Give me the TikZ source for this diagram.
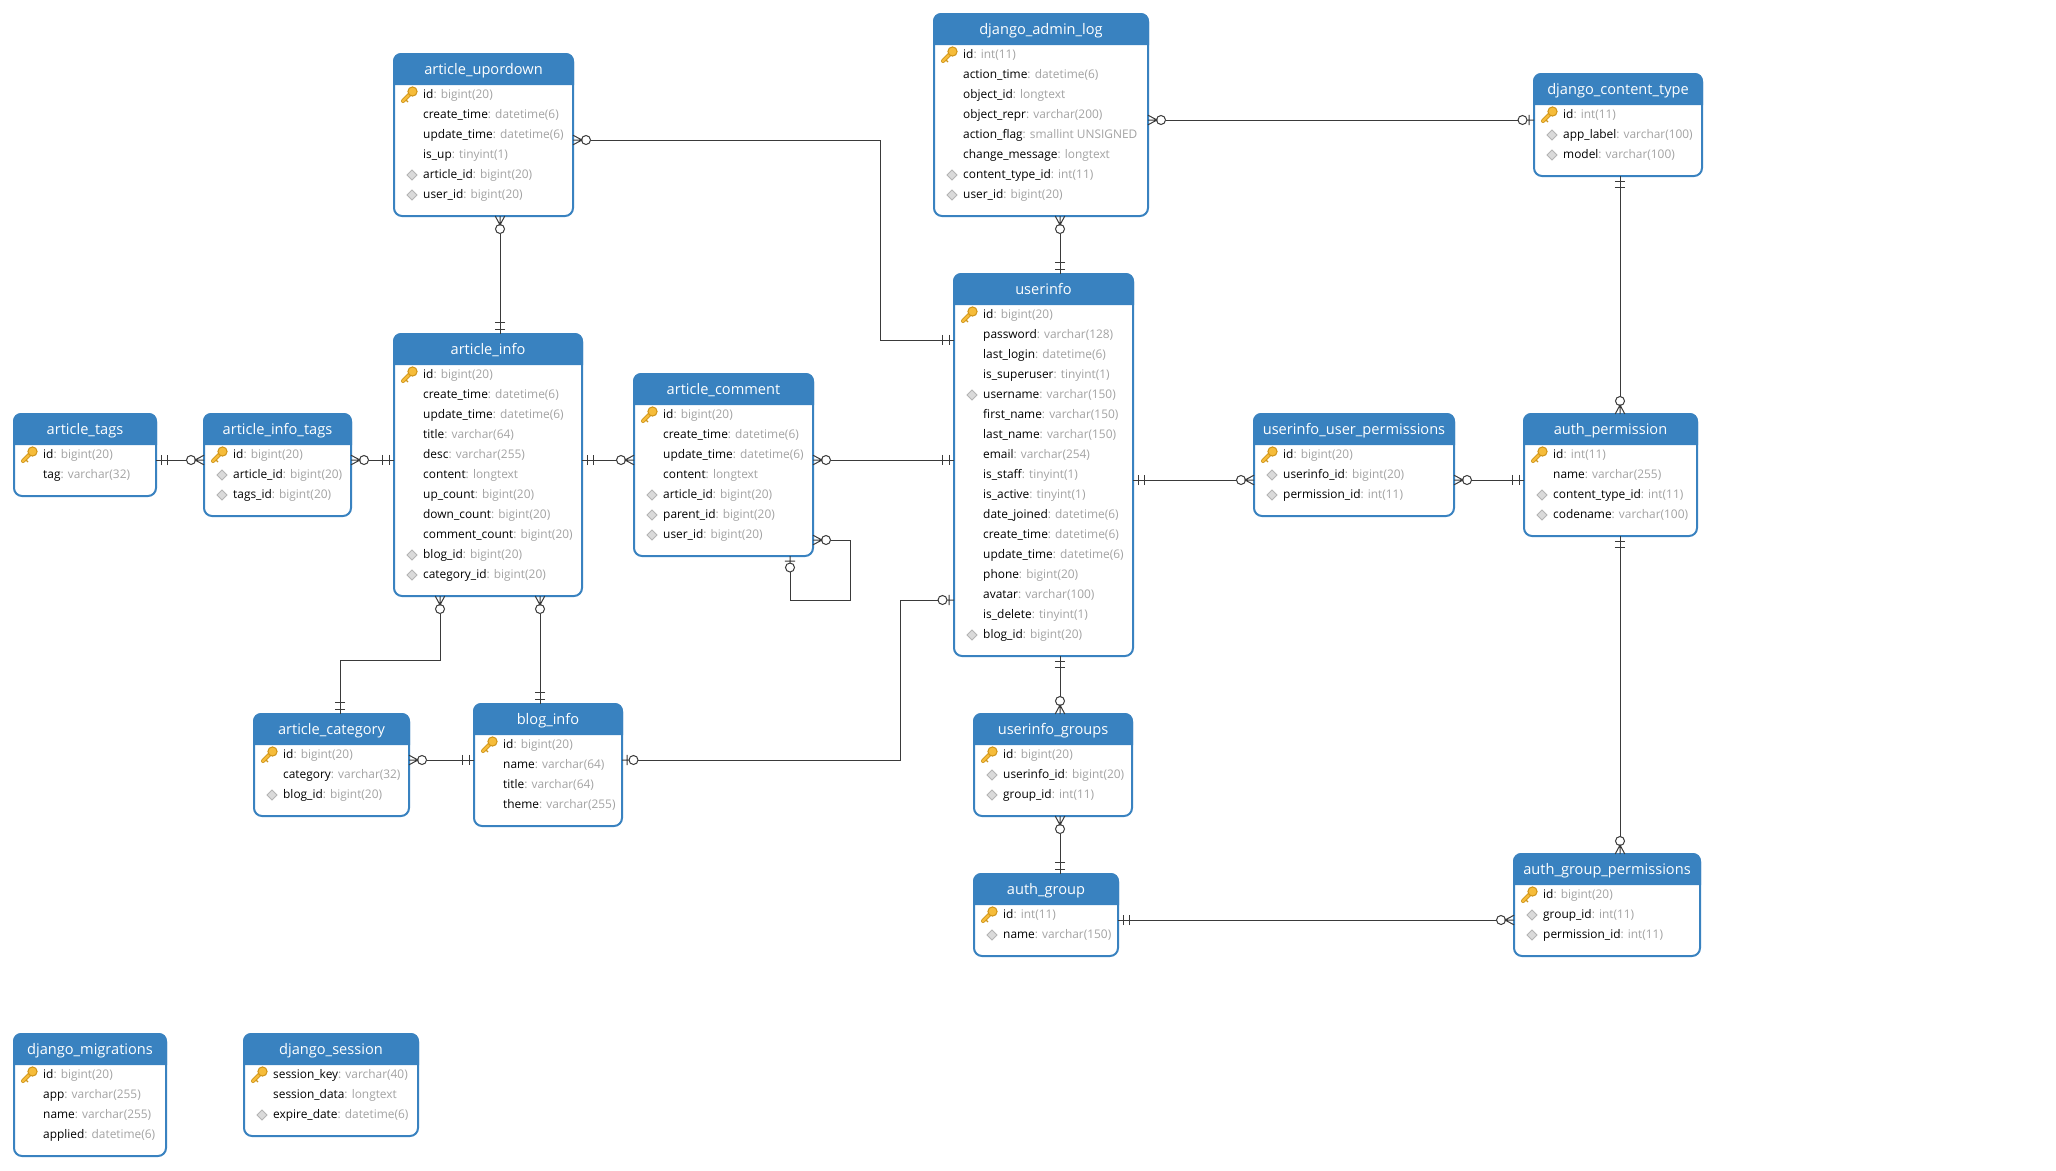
\documentclass[tikz,border=0pt]{standalone}
\usepackage{fontspec}
\setmainfont{Open Sans}
\usetikzlibrary{arrows.meta}

\definecolor{tableblue}{HTML}{3982C0}
\definecolor{typegray}{HTML}{A3A3A3}
\definecolor{linkgray}{HTML}{3A3A3A}
\definecolor{keygold}{HTML}{F6BC3A}
\definecolor{keyedge}{HTML}{CF9418}
\definecolor{fkfill}{HTML}{DADADA}
\definecolor{fkedge}{HTML}{B4B4B4}

% Crow's foot ends of the relationship lines
\pgfdeclarearrow{
  name=ManyOpt,
  setup code={\pgfarrowssettipend{0pt}\pgfarrowssetlineend{-17.5pt}\pgfarrowssetbackend{-17.5pt}},
  drawing code={
    \pgfsetdash{}{0pt}
    \pgfpathmoveto{\pgfqpoint{0pt}{4.8pt}}
    \pgfpathlineto{\pgfqpoint{-9pt}{0pt}}
    \pgfpathlineto{\pgfqpoint{0pt}{-4.8pt}}
    \pgfpathmoveto{\pgfqpoint{0pt}{0pt}}
    \pgfpathlineto{\pgfqpoint{-8.5pt}{0pt}}
    \pgfpathcircle{\pgfqpoint{-13pt}{0pt}}{4.5pt}
    \pgfusepathqstroke
  }
}
\pgfdeclarearrow{
  name=OneMand,
  setup code={\pgfarrowssettipend{0pt}\pgfarrowssetlineend{0pt}\pgfarrowssetbackend{-12pt}},
  drawing code={
    \pgfsetdash{}{0pt}
    \pgfpathmoveto{\pgfqpoint{-5pt}{5.2pt}}
    \pgfpathlineto{\pgfqpoint{-5pt}{-5.2pt}}
    \pgfpathmoveto{\pgfqpoint{-11.5pt}{5.2pt}}
    \pgfpathlineto{\pgfqpoint{-11.5pt}{-5.2pt}}
    \pgfusepathqstroke
  }
}
\pgfdeclarearrow{
  name=OneOpt,
  setup code={\pgfarrowssettipend{0pt}\pgfarrowssetlineend{-16pt}\pgfarrowssetbackend{-16pt}},
  drawing code={
    \pgfsetdash{}{0pt}
    \pgfpathmoveto{\pgfqpoint{0pt}{0pt}}
    \pgfpathlineto{\pgfqpoint{-7pt}{0pt}}
    \pgfpathmoveto{\pgfqpoint{-5pt}{5.2pt}}
    \pgfpathlineto{\pgfqpoint{-5pt}{-5.2pt}}
    \pgfpathcircle{\pgfqpoint{-11.5pt}{0pt}}{4.5pt}
    \pgfusepathqstroke
  }
}

\tikzset{
  tablebox/.style={draw=tableblue, fill=white, line width=2pt, rounded corners=8pt,
    inner sep=0pt, outer sep=0pt, anchor=north west},
  tabletitle/.style={text=white, inner sep=0pt, anchor=base, font=\fontsize{14.6}{17}\selectfont},
  rowtext/.style={anchor=base west, inner sep=0pt, text=black, font=\fontsize{11.9}{14}\selectfont},
  rel/.style={draw=linkgray, line width=1pt},
  keyicon/.pic={
    \draw[keyedge, line width=4pt, line cap=round] (-1,1) -- (-9.5,9.5);
    \draw[keygold, line width=2.4pt, line cap=round] (-1,1) -- (-9.5,9.5);
    \draw[keyedge, line width=1.2pt] (-6.5,8.5) -- (-4.5,10.5);
    \draw[keyedge, fill=keygold, line width=1pt] (0,0) circle (4.6);
  },
  fkicon/.pic={
    \draw[fkedge, fill=fkfill, line width=1pt] (-5,0) -- (0,-5) -- (5,0) -- (0,5) -- cycle;
  },
}

% \dbtable{node}{left}{top}{right}{row count}{title}{kind/column/type,...}
% kind: 0 plain column, 1 primary key, 2 indexed column
\newcommand{\dbtable}[7]{
  \node[tablebox, minimum width={(#4-#2-2)*1pt},
        minimum height={(32+20*#5+10)*1pt}] (#1) at ({#2+1},{#3+1}) {};
  \fill[tableblue] ({#2},{#3+32}) [rounded corners=8pt] -- ({#2},{#3}) -- ({#4},{#3})
        [sharp corners] -- ({#4},{#3+32}) -- cycle;
  \node[tabletitle] (#1-title) at ({(#2+#4)/2},{#3+21.5}) {#6};
  \foreach \rk/\rn/\rt [count=\ri] in {#7} {
    \node[rowtext] (#1-row\ri) at ({#2+30},{#3+45.5+20*(\ri-1)})
      {\rn\textcolor{typegray}{: \rt}};
    \ifnum\rk=1 \pic at ({#2+19.5},{#3+38.5+20*(\ri-1)}) {keyicon};\fi
    \ifnum\rk=2 \pic at ({#2+19},{#3+42+20*(\ri-1)}) {fkicon};\fi
  }
}

\begin{document}
\begin{tikzpicture}[x=1pt,y=-1pt]
\useasboundingbox (0,0) rectangle (2056,1170);
\fill[white] (0,0) rectangle (2056,1170);

% Tables
\dbtable{upordown}{393}{53}{574}{6}{article\_upordown}{
  1/id/bigint(20), 0/create\_time/datetime(6), 0/update\_time/datetime(6),
  0/is\_up/tinyint(1), 2/article\_id/bigint(20), 2/user\_id/bigint(20)}
\dbtable{tags}{13}{413}{157}{2}{article\_tags}{
  1/id/bigint(20), 0/tag/varchar(32)}
\dbtable{infotags}{203}{413}{352}{3}{article\_info\_tags}{
  1/id/bigint(20), 2/article\_id/bigint(20), 2/tags\_id/bigint(20)}
\dbtable{info}{393}{333}{583}{11}{article\_info}{
  1/id/bigint(20), 0/create\_time/datetime(6), 0/update\_time/datetime(6),
  0/title/varchar(64), 0/desc/varchar(255), 0/content/longtext,
  0/up\_count/bigint(20), 0/down\_count/bigint(20), 0/comment\_count/bigint(20),
  2/blog\_id/bigint(20), 2/category\_id/bigint(20)}
\dbtable{comment}{633}{373}{814}{7}{article\_comment}{
  1/id/bigint(20), 0/create\_time/datetime(6), 0/update\_time/datetime(6),
  0/content/longtext, 2/article\_id/bigint(20), 2/parent\_id/bigint(20),
  2/user\_id/bigint(20)}
\dbtable{userinfo}{953}{273}{1134}{17}{userinfo}{
  1/id/bigint(20), 0/password/varchar(128), 0/last\_login/datetime(6),
  0/is\_superuser/tinyint(1), 2/username/varchar(150), 0/first\_name/varchar(150),
  0/last\_name/varchar(150), 0/email/varchar(254), 0/is\_staff/tinyint(1),
  0/is\_active/tinyint(1), 0/date\_joined/datetime(6), 0/create\_time/datetime(6),
  0/update\_time/datetime(6), 0/phone/bigint(20), 0/avatar/varchar(100),
  0/is\_delete/tinyint(1), 2/blog\_id/bigint(20)}
\dbtable{adminlog}{933}{13}{1149}{8}{django\_admin\_log}{
  1/id/int(11), 0/action\_time/datetime(6), 0/object\_id/longtext,
  0/object\_repr/varchar(200), 0/action\_flag/smallint UNSIGNED,
  0/change\_message/longtext, 2/content\_type\_id/int(11), 2/user\_id/bigint(20)}
\dbtable{ctype}{1533}{73}{1703}{3}{django\_content\_type}{
  1/id/int(11), 2/app\_label/varchar(100), 2/model/varchar(100)}
\dbtable{uup}{1253}{413}{1455}{3}{userinfo\_user\_permissions}{
  1/id/bigint(20), 2/userinfo\_id/bigint(20), 2/permission\_id/int(11)}
\dbtable{perm}{1523}{413}{1698}{4}{auth\_permission}{
  1/id/int(11), 0/name/varchar(255), 2/content\_type\_id/int(11), 2/codename/varchar(100)}
\dbtable{category}{253}{713}{410}{3}{article\_category}{
  1/id/bigint(20), 0/category/varchar(32), 2/blog\_id/bigint(20)}
\dbtable{bloginfo}{473}{703}{623}{4}{blog\_info}{
  1/id/bigint(20), 0/name/varchar(64), 0/title/varchar(64), 0/theme/varchar(255)}
\dbtable{ugroups}{973}{713}{1133}{3}{userinfo\_groups}{
  1/id/bigint(20), 2/userinfo\_id/bigint(20), 2/group\_id/int(11)}
\dbtable{authgroup}{973}{873}{1119}{2}{auth\_group}{
  1/id/int(11), 2/name/varchar(150)}
\dbtable{agp}{1513}{853}{1701}{3}{auth\_group\_permissions}{
  1/id/bigint(20), 2/group\_id/int(11), 2/permission\_id/int(11)}
\dbtable{migrations}{13}{1033}{167}{4}{django\_migrations}{
  1/id/bigint(20), 0/app/varchar(255), 0/name/varchar(255), 0/applied/datetime(6)}
\dbtable{session}{243}{1033}{419}{3}{django\_session}{
  1/session\_key/varchar(40), 0/session\_data/longtext, 2/expire\_date/datetime(6)}

% Relationships
\draw[rel, {ManyOpt}-{OneMand}] (upordown.east |- 0,140) -- (880,140) -- (880,340) -- (userinfo.west |- 0,340);
\draw[rel, {ManyOpt}-{OneMand}] (upordown.south -| 500,0) -- (info.north -| 500,0);
\draw[rel, {OneMand}-{ManyOpt}] (tags.east |- 0,460) -- (infotags.west |- 0,460);
\draw[rel, {ManyOpt}-{OneMand}] (infotags.east |- 0,460) -- (info.west |- 0,460);
\draw[rel, {OneMand}-{ManyOpt}] (info.east |- 0,460) -- (comment.west |- 0,460);
\draw[rel, {ManyOpt}-{OneMand}] (comment.east |- 0,460) -- (userinfo.west |- 0,460);
\draw[rel, {ManyOpt}-{OneOpt}] (comment.east |- 0,540) -- (850,540) -- (850,600) -- (790,600) -- (comment.south -| 790,0);
\draw[rel, {OneOpt}-{OneOpt}] (bloginfo.east |- 0,760) -- (900,760) -- (900,600) -- (userinfo.west |- 0,600);
\draw[rel, {ManyOpt}-{OneMand}] (info.south -| 440,0) -- (440,660) -- (340,660) -- (category.north -| 340,0);
\draw[rel, {ManyOpt}-{OneMand}] (info.south -| 540,0) -- (bloginfo.north -| 540,0);
\draw[rel, {ManyOpt}-{OneMand}] (category.east |- 0,760) -- (bloginfo.west |- 0,760);
\draw[rel, {ManyOpt}-{OneOpt}] (adminlog.east |- 0,120) -- (ctype.west |- 0,120);
\draw[rel, {ManyOpt}-{OneMand}] (adminlog.south -| 1060,0) -- (userinfo.north -| 1060,0);
\draw[rel, {OneMand}-{ManyOpt}] (ctype.south -| 1620,0) -- (perm.north -| 1620,0);
\draw[rel, {OneMand}-{ManyOpt}] (userinfo.east |- 0,480) -- (uup.west |- 0,480);
\draw[rel, {ManyOpt}-{OneMand}] (uup.east |- 0,480) -- (perm.west |- 0,480);
\draw[rel, {OneMand}-{ManyOpt}] (perm.south -| 1620,0) -- (agp.north -| 1620,0);
\draw[rel, {OneMand}-{ManyOpt}] (userinfo.south -| 1060,0) -- (ugroups.north -| 1060,0);
\draw[rel, {ManyOpt}-{OneMand}] (ugroups.south -| 1060,0) -- (authgroup.north -| 1060,0);
\draw[rel, {OneMand}-{ManyOpt}] (authgroup.east |- 0,920) -- (agp.west |- 0,920);
\end{tikzpicture}
\end{document}
